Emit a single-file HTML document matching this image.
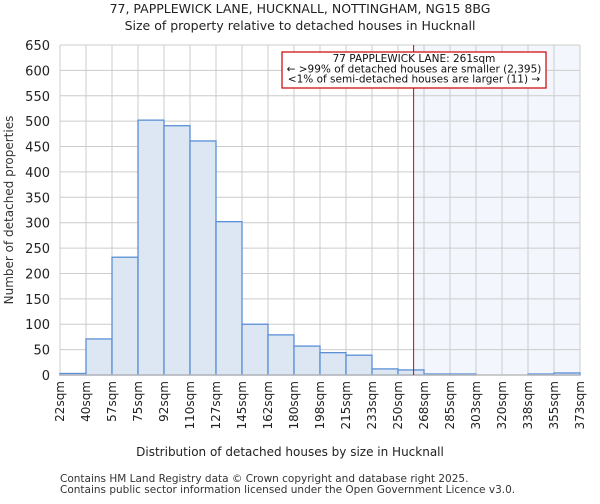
<!DOCTYPE html>
<html><head><meta charset="utf-8"><style>
body{margin:0;background:#fff;font-family:"DejaVu Sans","Liberation Sans",sans-serif;}
svg text{font-family:"DejaVu Sans","Liberation Sans",sans-serif;}
</style></head><body>
<svg id="c" width="600" height="500" xmlns="http://www.w3.org/2000/svg">
<text x="300" y="13" text-anchor="middle" font-size="12.5" fill="#222">77, PAPPLEWICK LANE, HUCKNALL, NOTTINGHAM, NG15 8BG</text>
<text x="300" y="30" text-anchor="middle" font-size="12.5" fill="#222">Size of property relative to detached houses in Hucknall</text>
<g id="plot"></g>
<text x="290" y="456" text-anchor="middle" font-size="12" fill="#222">Distribution of detached houses by size in Hucknall</text>
<text transform="translate(13,210) rotate(-90)" text-anchor="middle" font-size="12" fill="#333">Number of detached properties</text>
<text x="60" y="482" font-size="10.5" fill="#333">Contains HM Land Registry data © Crown copyright and database right 2025.</text>
<text x="60" y="493" font-size="10.5" fill="#333">Contains public sector information licensed under the Open Government Licence v3.0.</text>
</svg>
<script>
const binLabels=["22sqm","40sqm","57sqm","75sqm","92sqm","110sqm","127sqm","145sqm","162sqm","180sqm","198sqm","215sqm","233sqm","250sqm","268sqm","285sqm","303sqm","320sqm","338sqm","355sqm","373sqm"];
const counts=[3,71,232,502,491,461,302,100,79,57,44,39,12,10,2,2,0,0,2,4];
const yTicks=[0,50,100,150,200,250,300,350,400,450,500,550,600,650];
const propertyIndex=13.6;
const annotation=["77 PAPPLEWICK LANE: 261sqm","← >99% of detached houses are smaller (2,395)","<1% of semi-detached houses are larger (11) →"];
const NS="http://www.w3.org/2000/svg";
const L=60,R=580,T=45,B=375,yMax=650;
const nb=counts.length,bw=(R-L)/nb;
const xs=i=>L+i*bw, ys=v=>B-v/yMax*(B-T);
const g=document.getElementById('plot');
function mk(t,a){const e=document.createElementNS(NS,t);for(const k in a)e.setAttribute(k,a[k]);g.appendChild(e);return e;}
let e=mk('rect',{x:xs(propertyIndex),y:T,width:R-xs(propertyIndex),height:B-T,fill:'#f3f6fd'});


yTicks.forEach(v=>{let l=mk('line',{x1:L,x2:R,y1:ys(v),y2:ys(v),stroke:'#ccc','stroke-width':1});


let t=mk('text',{x:L-10,y:ys(v)+5,'text-anchor':'end','font-size':'13',fill:'#222'});t.textContent=v;

});
binLabels.forEach((s,i)=>{let l=mk('line',{x1:xs(i),x2:xs(i),y1:T,y2:B,stroke:'#ccc','stroke-width':1});


let t=mk('text',{transform:`translate(${xs(i)+4},381) rotate(-90)`,'text-anchor':'end','font-size':'12',fill:'#222'});t.textContent=s;

});
counts.forEach((v,i)=>{let r=mk('rect',{x:xs(i),y:ys(v),width:bw,height:B-ys(v),fill:'#dde7f4',stroke:'#5b8fd6','stroke-width':1.3});

});
e=mk('line',{x1:L,x2:R,y1:B,y2:B,stroke:'#bbb','stroke-width':1.5});


e=mk('line',{x1:xs(propertyIndex),x2:xs(propertyIndex),y1:T,y2:B,stroke:'#dd0000','stroke-width':1});


e=mk('rect',{x:282,y:52,width:264,height:36,fill:'#fff',stroke:'#cc0000','stroke-width':1.2});


annotation.forEach((s,i)=>{let t=mk('text',{x:414,y:62+i*10.3,'text-anchor':'middle','font-size':'10.5',fill:'#111'});t.textContent=s;

});
</script>
</body></html>
